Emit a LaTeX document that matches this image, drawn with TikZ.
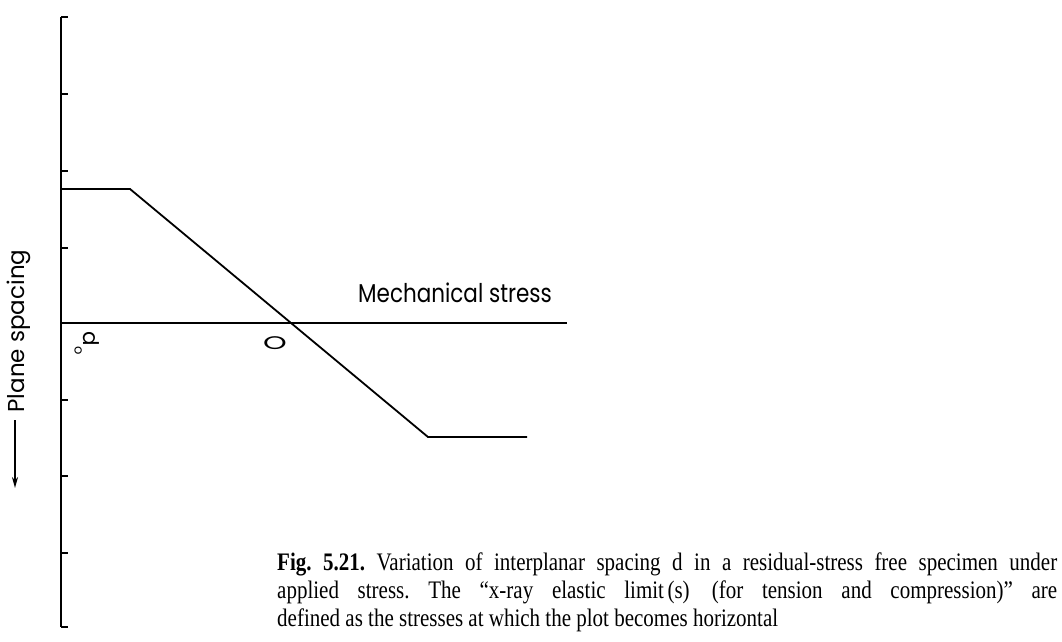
\documentclass[tikz,border=0pt]{standalone}
\usepackage{fontspec}
\setmainfont{Liberation Serif}
\newfontfamily\labelfont{Poppins}
\usetikzlibrary{arrows.meta}
\tikzset{
    curve/.style={line width=1.8pt}, % the plotted line and the axes
    tick/.style={line width=1.8pt}, % short marks on the spacing axis
    label/.style={font=\labelfont\fontsize{21.5}{24}\selectfont, inner sep=0pt}, % lettering in the plot
    tall/.style={yscale=1.2, transform shape}, % the scan is drawn a little taller than wide
    >={Stealth[length=11pt, width=6pt]}, % head of the spacing arrow
}
\begin{document}
\frenchspacing
\begin{tikzpicture}[x=1pt, y=-1pt]
    \useasboundingbox (0,0) rectangle (1062,642);
    % axes
    \coordinate (top) at (61,17);
    \coordinate (bottom) at (61,627);
    \coordinate (zero) at (61,323);
    \coordinate (stressend) at (567,323);
    \draw[curve] (top) -- (bottom);
    \draw[curve] (zero) -- (stressend);
    \foreach \y in {17,94,171,248,400,476,553,627}
        \draw[tick] (61,\y) -- (68,\y);
    % spacing against applied stress
    \coordinate (upstart) at (61,189);
    \coordinate (upend) at (130,189);
    \coordinate (lowstart) at (428,437);
    \coordinate (lowend) at (527,437);
    \draw[curve] (upstart) -- (upend) -- (lowstart) -- (lowend);
    % labels
    \node[label, tall, anchor=base west] (mech) at (358,302) {Mechanical stress};
    \node[label] (origin) at (275,343) {\scalebox{1.4}[0.85]{O}};
    \node[label, rotate=-90] (dzero) at (87,343) {d\raisebox{-9pt}{\fontsize{13}{13}\selectfont o}};
    \node[label, font=\labelfont\fontsize{23}{24}\selectfont, rotate=90] (plane) at (19,331) {Plane spacing};
    \coordinate (arrowtop) at (15,420);
    \coordinate (arrowtip) at (15,488);
    \draw[->, line width=1.8pt] (arrowtop) -- (arrowtip);
    % caption
    \node[tall, anchor=north west, inner sep=0pt, text width=780pt, align=justify,
          font=\fontsize{21}{23.3}\selectfont] (caption) at (277,553)
        {\textbf{Fig. 5.21.} Variation of interplanar spacing d in a residual-stress free specimen under\linebreak
        applied stress. The ``x-ray elastic limit\,(s)\, (for tension and compression)'' are\linebreak
        defined as the stresses at which the plot becomes horizontal};
\end{tikzpicture}
\end{document}
